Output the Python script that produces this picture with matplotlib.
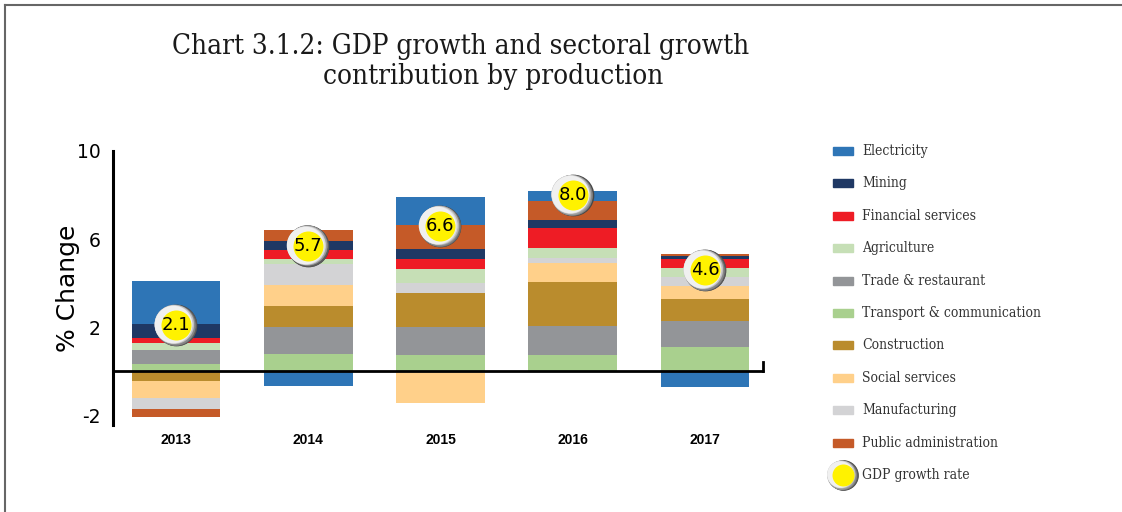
import numpy as np
import matplotlib
matplotlib.use('Agg')
import matplotlib.pyplot as plt
from matplotlib.patches import Rectangle
from matplotlib.lines import Line2D
from matplotlib.transforms import offset_copy

years = ['2013', '2014', '2015', '2016', '2017']

# stacking order (bottom -> top), as in the source chart
transport = [0.32, 0.76, 0.73, 0.75, 1.11]
trade = [0.64, 1.25, 1.27, 1.28, 1.15]
construction = [-0.46, 0.96, 1.57, 2.00, 1.00]
social = [-0.77, 0.96, -1.45, 0.89, 0.60]
manufacturing = [-0.50, 0.92, 0.41, 0.20, 0.43]
agriculture = [0.32, 0.23, 0.64, 0.47, 0.40]
financial = [0.22, 0.40, 0.46, 0.92, 0.38]
mining = [0.66, 0.41, 0.46, 0.37, 0.18]
public_admin = [-0.37, 0.50, 1.11, 0.83, 0.08]
electricity = [1.93, -0.67, 1.27, 0.46, -0.72]
gdp = [2.1, 5.7, 6.6, 8.0, 4.6]

series = [
    ('Transport & communication', transport, '#A9D08E'),
    ('Trade & restaurant', trade, '#939598'),
    ('Construction', construction, '#BA8C2D'),
    ('Social services', social, '#FFD08A'),
    ('Manufacturing', manufacturing, '#D3D3D5'),
    ('Agriculture', agriculture, '#C6DFB6'),
    ('Financial services', financial, '#EE1C25'),
    ('Mining', mining, '#1F3864'),
    ('Public administration', public_admin, '#C55A28'),
    ('Electricity', electricity, '#2E75B6'),
]
legend_order = ['Electricity', 'Mining', 'Financial services', 'Agriculture',
                'Trade & restaurant', 'Transport & communication', 'Construction',
                'Social services', 'Manufacturing', 'Public administration']

W, H = 1122, 512
fig = plt.figure(figsize=(W / 100, H / 100), dpi=100)

# axes box in pixels: x 113..764, y 151..425
ax = fig.add_axes([113 / W, (H - 425) / H, (764 - 113) / W, (425 - 151) / H])
x = np.arange(len(years))
ax.set_xlim(-0.476, 4.446)
ax.set_ylim(-2.45, 10)

pos = np.zeros(len(years))
neg = np.zeros(len(years))
for name, vals, col in series:
    v = np.array(vals)
    bottom = np.where(v >= 0, pos, neg)
    ax.bar(x, v, bottom=bottom, width=0.67, color=col, linewidth=0, clip_on=False, zorder=2)
    pos = pos + np.where(v >= 0, v, 0)
    neg = neg + np.where(v < 0, v, 0)

# zero line with little end tick
xl = ax.get_xlim()
ax.plot(xl, [0, 0], color='black', lw=2, zorder=3, solid_capstyle='butt', clip_on=False)
ax.plot([xl[1] - 0.005, xl[1] - 0.005], [0, 0.42], color='black', lw=2, zorder=3, clip_on=False)

for s in ['top', 'right', 'bottom']:
    ax.spines[s].set_visible(False)
ax.spines['left'].set_linewidth(2.2)
ax.set_yticks([10, 6, 2, -2])
ax.set_yticklabels(['10', '6', '2', '-2'])
ax.tick_params(axis='y', length=0, pad=9, labelsize=13.5)
ax.set_xticks([])
ax.set_ylabel('% Change', fontsize=18, labelpad=-2)

for i, yr in enumerate(years):
    ax.text(i, -3.15, yr, ha='center', va='center', fontsize=10, fontweight='bold',
            family='Liberation Sans')


def bubble(axis, xx, yy, trans, base=30.0):
    # shaded grey ring faked with stacked offset circles
    n = 9
    for k in range(n):
        f = k / (n - 1)
        d = base - 3.0 * f
        g = 0.28 + 0.66 * f
        tr = offset_copy(trans, fig=fig, x=-2.2 * f, y=0.6 * f, units='points')
        axis.scatter([xx], [yy], s=d ** 2, color=(g, g, g), transform=tr, zorder=5,
                     linewidths=0, clip_on=False)
    axis.scatter([xx], [yy], s=(base * 0.72) ** 2, color='#FFF200', transform=trans,
                 zorder=6, linewidths=0, clip_on=False)


for i, g in enumerate(gdp):
    bubble(ax, i, g, ax.transData)
    ax.text(i, g, '%.1f' % g, ha='center', va='center', fontsize=13, zorder=7)

# legend
lab_font = dict(family=['DejaVu Serif'], fontstretch='condensed', fontsize=10, color='#333333')
colors = {n: c for n, _, c in series}
for k, name in enumerate(legend_order):
    yc = 151 + k * 32.4
    fig.patches.append(Rectangle((833 / W, (H - yc - 4) / H), 20 / W, 8 / H,
                                 transform=fig.transFigure, color=colors[name]))
    fig.text(862 / W, (H - yc) / H, name, va='center', ha='left', **lab_font)
yc = 151 + 10 * 32.4
lax = fig.add_axes([0, 0, 1, 1], facecolor='none')
lax.set_xlim(0, W)
lax.set_ylim(H, 0)
lax.axis('off')
bubble(lax, 843, yc, lax.transData, base=22)
fig.text(862 / W, (H - yc) / H, 'GDP growth rate', va='center', ha='left', **lab_font)

# title
title_font = dict(family=['DejaVu Serif'], fontstretch='condensed', fontsize=20, color='#1a1a1a')
fig.text(172 / W, (H - 47) / H, 'Chart 3.1.2: GDP growth and sectoral growth', va='center',
         ha='left', **title_font)
fig.text(323 / W, (H - 77) / H, 'contribution by production', va='center', ha='left',
         **title_font)

# outer frame lines (top and left)
fig.lines.append(Line2D([5 / W, 1], [(H - 5) / H, (H - 5) / H], transform=fig.transFigure,
                        color='#666666', lw=1.5))
fig.lines.append(Line2D([5 / W, 5 / W], [0, (H - 5) / H], transform=fig.transFigure,
                        color='#666666', lw=1.5))

fig.savefig('out.png', dpi=100)
